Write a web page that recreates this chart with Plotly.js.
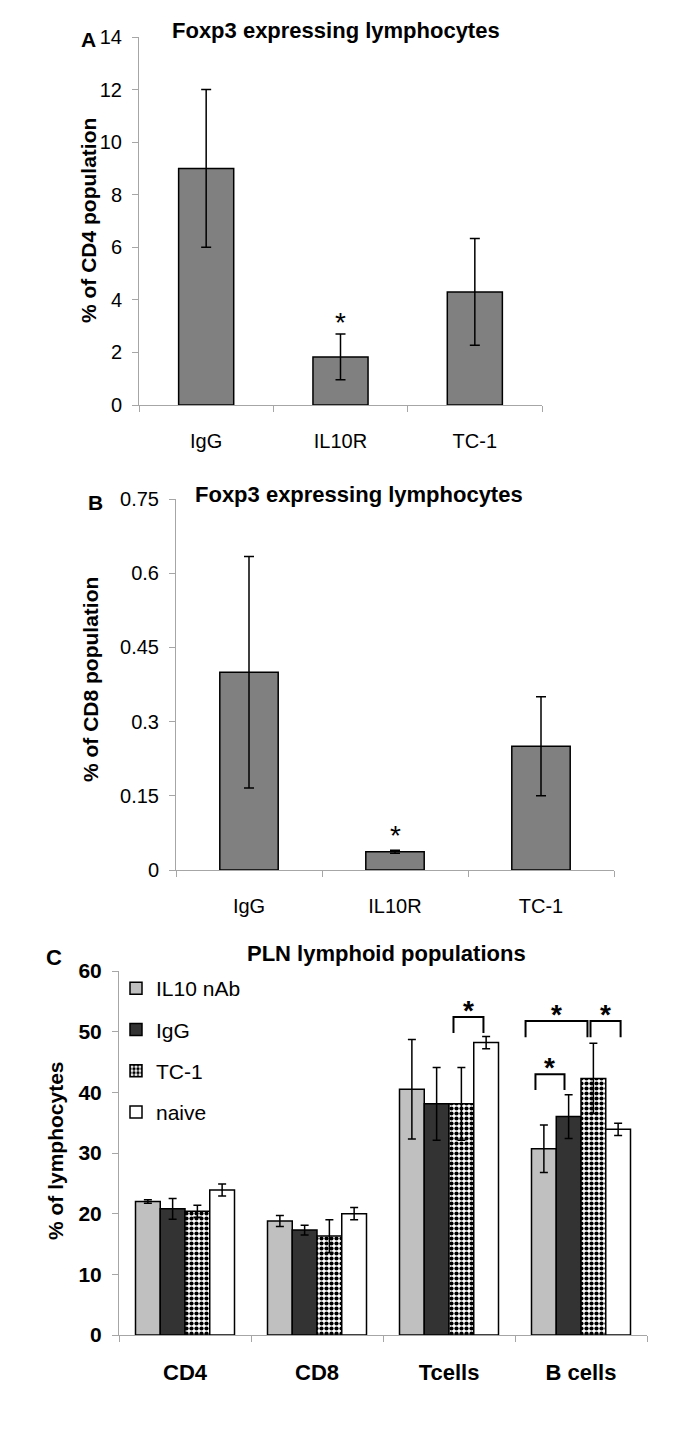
<!DOCTYPE html>
<html><head><meta charset="utf-8">
<script src="https://cdn.plot.ly/plotly-3.0.1.min.js"></script>
<style>html,body{margin:0;padding:0;background:#fff}</style>
</head><body><div id="chart" style="width:685px;height:1431px"></div>
<script>
// ---- data ----
const foxCats = ['IgG', 'IL10R', 'TC-1'];
const cd4Vals = [9.0, 1.83, 4.3];
const cd4Err = [3.0, 0.87, 2.03];
const cd8Vals = [0.40, 0.037, 0.25];
const cd8Err = [0.234, 0.003, 0.10];
const starCat = 'IL10R';
const cd4StarY = 3.15;
const cd8StarY = 0.07;

const plnCats = ['CD4', 'CD8', 'Tcells', 'B cells'];
const plnSeries = ['IL10 nAb', 'IgG', 'TC-1', 'naive'];
const il10Vals = [22.0, 18.8, 40.5, 30.7];
const il10Err = [0.3, 0.9, 8.2, 3.9];
const iggVals = [20.8, 17.3, 38.1, 36.0];
const iggErr = [1.7, 0.8, 6.0, 3.6];
const tc1Vals = [20.4, 16.3, 38.1, 42.3];
const tc1Err = [1.0, 2.7, 6.0, 5.8];
const naiveVals = [23.9, 20.0, 48.2, 33.9];
const naiveErr = [1.0, 1.0, 1.0, 1.0];
// significance brackets: category index, left offset, right offset, top, leg bottom
const sigCat = [2, 3, 3, 3];
const sigLeft = [0.034, -0.42, 0.072, -0.345];
const sigRight = [0.261, 0.049, 0.30, -0.125];
const sigTop = [52.4, 51.75, 51.75, 43.0];
const sigLeg = [49.8, 49.1, 49.1, 40.4];

// ---- layout helpers ----
const W = 685, H = 1431;
const xd = (a, b) => [a / W, b / W];
const yd = (top, bottom) => [1 - bottom / H, 1 - top / H];
const SANS = '"Liberation Sans", Arial, sans-serif';
const AXC = '#a6a6a6';

const errStyle = (arr, w) => ({type: 'data', array: arr, visible: true, color: '#000', thickness: 1.5, width: w});

const traces = [];
traces.push({type: 'bar', x: foxCats, y: cd4Vals, xaxis: 'x', yaxis: 'y', width: 0.41,
  marker: {color: '#808080', line: {color: '#000', width: 1.5}}, error_y: errStyle(cd4Err, 5), showlegend: false, hoverinfo: 'skip'});
traces.push({type: 'bar', x: foxCats, y: cd8Vals, xaxis: 'x2', yaxis: 'y2', width: 0.40,
  marker: {color: '#808080', line: {color: '#000', width: 1.5}}, error_y: errStyle(cd8Err, 5), showlegend: false, hoverinfo: 'skip'});

const plnVals = [il10Vals, iggVals, tc1Vals, naiveVals];
const plnErrs = [il10Err, iggErr, tc1Err, naiveErr];
const plnMarkers = [
  {color: '#c0c0c0', line: {color: '#000', width: 1.5}},
  {color: '#333333', line: {color: '#000', width: 1.5}},
  {color: '#ffffff', line: {color: '#000', width: 1.5}, pattern: {shape: '.', size: 5, solidity: 0.55, fgcolor: '#000', bgcolor: '#fff', fillmode: 'replace'}},
  {color: '#ffffff', line: {color: '#000', width: 1.5}}
];
plnSeries.forEach((name, i) => {
  traces.push({type: 'bar', name: name, x: plnCats, y: plnVals[i], xaxis: 'x3', yaxis: 'y3',
    marker: plnMarkers[i], error_y: errStyle(plnErrs[i], 4), legendgroup: 'g' + i, hoverinfo: 'skip'});
});

const xBase = (dom, font) => ({domain: dom, type: 'category', showline: true, linecolor: AXC, linewidth: 1,
  ticks: 'outside', tickson: 'boundaries', ticklen: 6, tickcolor: AXC, showgrid: false, zeroline: false,
  tickfont: font, ticklabelstandoff: 18, fixedrange: true});
const yBase = (dom, range, dtick, font, anchor) => ({domain: dom, range: range, dtick: dtick, showline: true, linecolor: AXC,
  linewidth: 1, ticks: 'outside', ticklen: 6, tickcolor: AXC, showgrid: false, zeroline: false, tickfont: font,
  ticklabelstandoff: 6, anchor: anchor, fixedrange: true});

const tickA = {family: SANS, size: 20, color: '#000'};
const tickCy = {family: SANS, size: 21, color: '#000', weight: 'bold'};
const tickCx = {family: SANS, size: 22, color: '#000', weight: 'bold'};

const shapes = [];
sigCat.forEach((c, i) => {
  const x0 = c + sigLeft[i], x1 = c + sigRight[i];
  shapes.push({type: 'path', xref: 'x3', yref: 'y3',
    path: `M ${x0},${sigLeg[i]} L ${x0},${sigTop[i]} L ${x1},${sigTop[i]} L ${x1},${sigLeg[i]}`,
    line: {color: '#000', width: 2}});
});

const ann = (text, x, y, size, extra) => Object.assign({text: text, xref: 'paper', yref: 'paper', x: x / W, y: 1 - y / H,
  xanchor: 'center', yanchor: 'middle', showarrow: false, font: {family: SANS, size: size, color: '#000'}}, extra || {});

const annotations = [
  ann('<b>Foxp3 expressing lymphocytes</b>', 336, 31, 22),
  ann('<b>Foxp3 expressing lymphocytes</b>', 359, 494, 22),
  ann('<b>PLN lymphoid populations</b>', 387, 953, 22),
  ann('<b>A</b>', 88, 39, 21),
  ann('<b>B</b>', 95, 502, 21),
  ann('<b>C</b>', 54, 957, 22),
  ann('<b>% of CD4 population</b>', 88, 221, 21, {textangle: -90}),
  ann('<b>% of CD8 population</b>', 91, 680, 21, {textangle: -90}),
  ann('<b>% of lymphocytes</b>', 55, 1151, 21, {textangle: -90}),
  {text: '*', xref: 'x', yref: 'y', x: starCat, y: cd4StarY, showarrow: false, font: {family: SANS, size: 28, color: '#000'}},
  {text: '*', xref: 'x2', yref: 'y2', x: starCat, y: cd8StarY, showarrow: false, font: {family: SANS, size: 28, color: '#000'}}
];
sigCat.forEach((c, i) => {
  annotations.push({text: '<b>*</b>', xref: 'x3', yref: 'y3', x: c + (sigLeft[i] + sigRight[i]) / 2, y: sigTop[i] - 1.8,
    yanchor: 'bottom', showarrow: false, font: {family: SANS, size: 28, color: '#000'}});
});

const layout = {
  width: W, height: H, margin: {l: 0, r: 0, t: 0, b: 0}, paper_bgcolor: '#fff', plot_bgcolor: '#fff',
  barmode: 'group', bargap: 0.25, bargroupgap: 0,
  xaxis: Object.assign(xBase(xd(139, 542), tickA), {anchor: 'y'}),
  yaxis: yBase(yd(37, 405), [0, 14], 2, tickA, 'x'),
  xaxis2: Object.assign(xBase(xd(176, 614), tickA), {anchor: 'y2'}),
  yaxis2: yBase(yd(499, 870), [0, 0.75], 0.15, tickA, 'x2'),
  xaxis3: Object.assign(xBase(xd(119, 647), tickCx), {anchor: 'y3'}),
  yaxis3: yBase(yd(971, 1335), [0, 60], 10, tickCy, 'x3'),
  showlegend: true,
  legend: {x: 116 / W, y: 1 - 968 / H, xanchor: 'left', yanchor: 'top', bgcolor: 'rgba(0,0,0,0)',
    font: {family: SANS, size: 21, color: '#000'}, traceorder: 'grouped', tracegroupgap: 11, itemwidth: 30},
  shapes: shapes, annotations: annotations
};
Plotly.newPlot('chart', traces, layout, {staticPlot: true, displayModeBar: false});
</script></body></html>
